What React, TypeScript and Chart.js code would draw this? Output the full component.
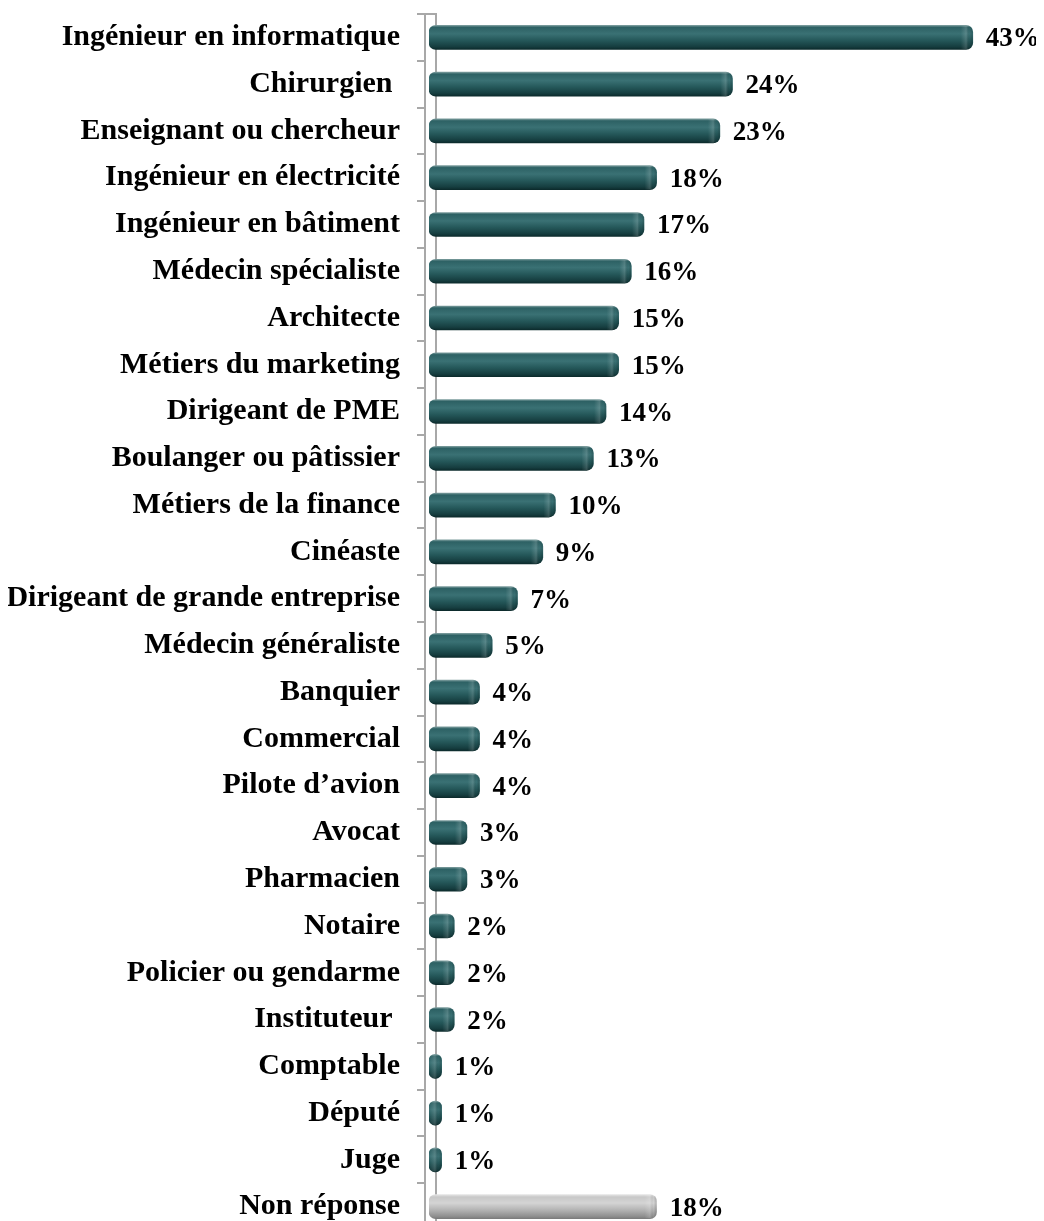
import React, { useEffect, useRef } from "react";
import { Chart, registerables } from "chart.js";

Chart.register(...registerables);

const categories: string[] = [
  "Ingénieur en informatique",
  "Chirurgien ",
  "Enseignant ou chercheur",
  "Ingénieur en électricité",
  "Ingénieur en bâtiment",
  "Médecin spécialiste",
  "Architecte",
  "Métiers du marketing",
  "Dirigeant de PME",
  "Boulanger ou pâtissier",
  "Métiers de la finance",
  "Cinéaste",
  "Dirigeant de grande entreprise",
  "Médecin généraliste",
  "Banquier",
  "Commercial",
  "Pilote d’avion",
  "Avocat",
  "Pharmacien",
  "Notaire",
  "Policier ou gendarme",
  "Instituteur ",
  "Comptable",
  "Député",
  "Juge",
  "Non réponse",
];

const values: number[] = [43, 24, 23, 18, 17, 16, 15, 15, 14, 13, 10, 9, 7, 5, 4, 4, 4, 3, 3, 2, 2, 2, 1, 1, 1, 18];

const grayCategory = "Non réponse";

const FONT = "'Liberation Serif', 'Times New Roman', serif";
const FONT_SIZE = 30;
const VALUE_FONT_SIZE = 27;
const BAR_H = 24;
const AXIS_W = 421;

function roundRectPath(ctx: CanvasRenderingContext2D, x0: number, y0: number, x1: number, y1: number, r: number) {
  const w = x1 - x0;
  const rr = Math.min(r, w / 2, (y1 - y0) / 2);
  ctx.beginPath();
  ctx.moveTo(x0 + rr, y0);
  ctx.lineTo(x1 - rr, y0);
  ctx.quadraticCurveTo(x1, y0, x1, y0 + rr);
  ctx.lineTo(x1, y1 - rr);
  ctx.quadraticCurveTo(x1, y1, x1 - rr, y1);
  ctx.lineTo(x0 + rr, y1);
  ctx.quadraticCurveTo(x0, y1, x0, y1 - rr);
  ctx.lineTo(x0, y0 + rr);
  ctx.quadraticCurveTo(x0, y0, x0 + rr, y0);
  ctx.closePath();
}

const axisPlugin = {
  id: "customAxis",
  beforeDatasetsDraw(chart: any) {
    const { ctx, chartArea } = chart;
    const n = categories.length;
    const top = chartArea.top;
    const bottom = chartArea.bottom;
    const step = (bottom - top) / n;
    const ax = chartArea.left - 4;
    const bx = chartArea.left + 7;
    ctx.save();
    ctx.strokeStyle = "#a8a8a8";
    ctx.lineWidth = 2;
    ctx.beginPath();
    ctx.moveTo(ax, top);
    ctx.lineTo(ax, bottom + 20);
    ctx.moveTo(bx, top);
    ctx.lineTo(bx, bottom + 20);
    ctx.moveTo(ax - 8, top);
    ctx.lineTo(bx + 1, top);
    for (let i = 1; i <= n; i++) {
      const y = Math.round(top + i * step);
      ctx.moveTo(ax - 8, y);
      ctx.lineTo(ax, y);
    }
    ctx.stroke();
    ctx.restore();
  },
};

const barEffectsPlugin = {
  id: "barEffects",
  afterDatasetsDraw(chart: any) {
    const { ctx } = chart;
    const meta = chart.getDatasetMeta(0);
    ctx.save();
    meta.data.forEach((el: any, i: number) => {
      const x0 = Math.min(el.base, el.x);
      const x1 = Math.max(el.base, el.x);
      const y0 = el.y - BAR_H / 2;
      const y1 = el.y + BAR_H / 2;
      ctx.save();
      roundRectPath(ctx, x0, y0, x1, y1, 7);
      ctx.clip();
      const g = ctx.createLinearGradient(x1 - 12, 0, x1, 0);
      g.addColorStop(0, "rgba(255,255,255,0)");
      g.addColorStop(0.45, "rgba(255,255,255,0.16)");
      g.addColorStop(0.75, "rgba(0,0,0,0)");
      g.addColorStop(1, "rgba(0,0,0,0.18)");
      ctx.fillStyle = g;
      ctx.fillRect(Math.max(x0, x1 - 12), y0, Math.min(12, x1 - x0), BAR_H);
      ctx.restore();

      ctx.fillStyle = "#000";
      ctx.font = `bold ${VALUE_FONT_SIZE}px ${FONT}`;
      ctx.textAlign = "left";
      ctx.textBaseline = "middle";
      ctx.fillText(`${values[i]}%`, x1 + 13, el.y + 2);
    });
    ctx.restore();
  },
};

function barFill(c: any) {
  const chart = c.chart;
  const yScale = chart.scales && chart.scales.y;
  const isGray = categories[c.dataIndex] === grayCategory;
  const flat = isGray ? "#bdbdbd" : "#2a5c5f";
  if (!yScale || c.type !== "data") return flat;
  const py = yScale.getPixelForValue(c.dataIndex);
  if (!Number.isFinite(py)) return flat;
  const g = chart.ctx.createLinearGradient(0, py - BAR_H / 2, 0, py + BAR_H / 2);
  if (isGray) {
    g.addColorStop(0, "#e4e4e4");
    g.addColorStop(0.1, "#c8c8c8");
    g.addColorStop(0.35, "#d4d4d4");
    g.addColorStop(0.65, "#b2b2b2");
    g.addColorStop(0.9, "#909090");
    g.addColorStop(1, "#7c7c7c");
  } else {
    g.addColorStop(0, "#7a9b9c");
    g.addColorStop(0.08, "#2d6164");
    g.addColorStop(0.35, "#3a7174");
    g.addColorStop(0.62, "#25585a");
    g.addColorStop(0.88, "#163e40");
    g.addColorStop(1, "#0c2b2c");
  }
  return g;
}

export default function App() {
  const ref = useRef<HTMLCanvasElement | null>(null);
  useEffect(() => {
    document.body.style.overflow = "hidden";
    const canvas = ref.current;
    if (!canvas) return;
    const chart = new Chart(canvas, {
      type: "bar",
      data: {
        labels: categories,
        datasets: [
          {
            data: values,
            backgroundColor: barFill as any,
            borderWidth: 0,
            borderRadius: 7,
            borderSkipped: false,
            barThickness: BAR_H,
          },
        ],
      },
      options: {
        indexAxis: "y",
        animation: false,
        responsive: false,
        devicePixelRatio: 1,
        layout: { padding: { top: 6, right: 8, bottom: 0, left: 0 } },
        plugins: {
          legend: { display: false },
          tooltip: { enabled: false },
          title: { display: false },
        },
        scales: {
          x: {
            display: false,
            min: 0,
            max: 48,
          },
          y: {
            grid: { display: false, drawTicks: false },
            border: { display: false },
            afterFit: (scale: any) => {
              scale.width = AXIS_W;
              scale.paddingTop = 0;
              scale.paddingBottom = 0;
            },
            ticks: {
              autoSkip: false,
              padding: 29,
              color: "#000",
              font: { family: FONT, size: FONT_SIZE, weight: "bold" },
            },
          },
        },
      },
      plugins: [axisPlugin, barEffectsPlugin],
    });
    chart.update();
    return () => chart.destroy();
  }, []);
  return (
    <div>
      <canvas ref={ref} width={1036} height={1222} style={{ display: "block" }} />
    </div>
  );
}
